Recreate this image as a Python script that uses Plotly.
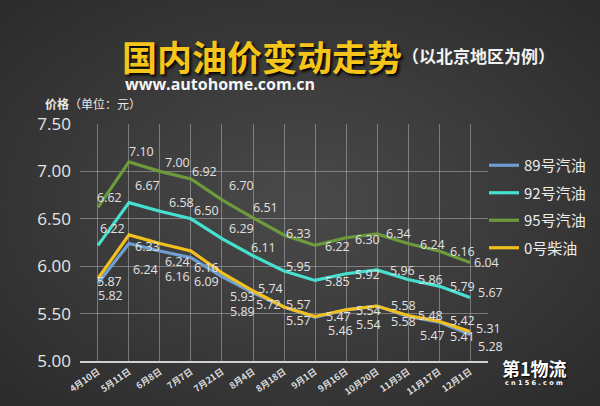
import base64
import plotly.graph_objects as go

# ---- data ----
dates = ["4月10日", "5月11日", "6月8日", "7月7日", "7月21日", "8月4日", "8月18日",
         "9月1日", "9月16日", "10月20日", "11月3日", "11月17日", "12月1日"]
series_names = ["89号汽油", "92号汽油", "95号汽油", "0号柴油"]
gas89 = [5.82, 6.24, 6.16, 6.09, 5.89, 5.72, 5.57, 5.46, 5.54, 5.58, 5.47, 5.41, 5.28]
gas92 = [6.22, 6.67, 6.58, 6.50, 6.29, 6.11, 5.95, 5.85, 5.92, 5.96, 5.86, 5.79, 5.67]
gas95 = [6.62, 7.10, 7.00, 6.92, 6.70, 6.51, 6.33, 6.22, 6.30, 6.34, 6.24, 6.16, 6.04]
diesel0 = [5.87, 6.33, 6.24, 6.16, 5.93, 5.74, 5.57, 5.47, 5.54, 5.58, 5.48, 5.42, 5.31]
y_ticks = [5.00, 5.50, 6.00, 6.50, 7.00, 7.50]

# ---- styles ----
colors = ["#6f9fd2", "#45e0cf", "#6c9a3c", "#f2c01e"]
# label offsets (pixels, dx right, dy down) per series
off89 = [(13, 12), (17, 26), (18, 25), (16, 24), (21, 35), (15, 12), (14, 14),
         (25, 13), (22, 15), (26, 15), (24, 19), (23, 14), (20, 12)]
off92 = [(15, -17), (19, -17), (22, -9), (16, -8), (20, -10), (10, -8), (14, -4),
         (22, 1), (21, 1), (25, 1), (22, 0), (23, 0), (20, -5)]
off95 = [(12, -10), (13, -10), (18, -9), (14, -7), (20, -14), (12, -10), (14, -1),
         (22, 1), (21, 2), (21, 0), (24, 1), (23, 0), (16, 0)]
off0 = [(12, 3), (19, 12), (18, 18), (16, 16), (21, 24), (17, -2), (14, -2),
        (23, 0), (22, 1), (26, -1), (22, 0), (23, -1), (18, -3)]

all_series = [gas89, gas92, gas95, diesel0]
all_offsets = [off89, off92, off95, off0]

L, R, T, B = 80, 112, 124, 45
PW, PH = 600 - L - R, 406 - T - B


def px(xp):
    return (xp - L) / PW


def py(yp):
    return (406 - B - yp) / PH


svg = ("<svg xmlns='http://www.w3.org/2000/svg' width='600' height='406'>"
       "<defs><radialGradient id='g' cx='50%' cy='50%' r='72%'>"
       "<stop offset='0' stop-color='#4a4a4a'/><stop offset='1' stop-color='#2a2a2a'/>"
       "</radialGradient></defs><rect width='600' height='406' fill='url(#g)'/></svg>")
bg_uri = "data:image/svg+xml;base64," + base64.b64encode(svg.encode()).decode()

fig = go.Figure()
xs = list(range(len(dates)))
for name, vals, col in zip(series_names, all_series, colors):
    fig.add_trace(go.Scatter(
        x=xs, y=vals, mode="lines", name=name, legendgroup=name,
        line=dict(color=col, width=3.2),
        hoverinfo="skip",
    ))

annotations = []
for vals, offs in zip(all_series, all_offsets):
    for i, v in enumerate(vals):
        annotations.append(dict(
            x=i, y=v, xref="x", yref="y", text=f"{v:.2f}", showarrow=False,
            xshift=offs[i][0], yshift=-offs[i][1],
            font=dict(family="Open Sans, Noto Sans CJK SC", size=12.5, color="#e2e2e2"),
        ))

annotations += [
    dict(x=px(262), y=py(56), xref="paper", yref="paper", showarrow=False,
         text="<b>国内油价变动走势</b>", xanchor="center", yanchor="middle",
         font=dict(family="Noto Sans CJK SC", size=35, color="#f6c51a",
                   shadow="2px 2px 3px #000")),
    dict(x=px(478), y=py(56), xref="paper", yref="paper", showarrow=False,
         text="<b>（以北京地区为例）</b>", xanchor="center", yanchor="middle",
         font=dict(family="Noto Sans CJK SC", size=17, color="#f2f2f2")),
    dict(x=px(123), y=py(84), xref="paper", yref="paper", showarrow=False,
         text="<b>www.autohome.com.cn</b>", xanchor="left", yanchor="middle",
         font=dict(family="Open Sans", size=16, color="#f5f5f5")),
    dict(x=px(43), y=py(104), xref="paper", yref="paper", showarrow=False,
         text="<b>价格</b>（单位：元）", xanchor="left", yanchor="middle",
         font=dict(family="Noto Sans CJK SC", size=12, color="#e8e8e8")),
    dict(x=px(534), y=py(368), xref="paper", yref="paper", showarrow=False,
         text="<b>第1物流</b>", xanchor="center", yanchor="middle",
         font=dict(family="Noto Sans CJK SC", size=18, color="#ffffff",
                   shadow="1px 1px 2px #000")),
    dict(x=px(534), y=py(383), xref="paper", yref="paper", showarrow=False,
         text="<b>c n 1 5 6 . c o m</b>", xanchor="center", yanchor="middle",
         font=dict(family="DejaVu Sans", size=6.5, color="#ffffff")),
]

fig.update_layout(
    width=600, height=406,
    margin=dict(l=L, r=R, t=T, b=B, pad=0, autoexpand=False),
    paper_bgcolor="#393939",
    plot_bgcolor="rgba(0,0,0,0)",
    images=[dict(source=bg_uri, xref="paper", yref="paper", x=px(0), y=py(0),
                 sizex=600 / PW, sizey=406 / PH, sizing="stretch", layer="below",
                 xanchor="left", yanchor="top")],
    showlegend=True,
    legend=dict(x=px(484), y=py(149), xanchor="left", yanchor="top",
                bgcolor="rgba(0,0,0,0)", font=dict(family="Noto Sans CJK SC", size=15,
                                                   color="#ececec"),
                itemwidth=30, tracegroupgap=5),
    annotations=annotations,
    xaxis=dict(
        type="linear", range=[-0.58, 12.58], tickmode="array", tickvals=xs,
        ticktext=[f"<b>{d}</b>" for d in dates], tickangle=-35,
        tickfont=dict(family="Noto Sans CJK SC", size=9, color="#dcdcdc"),
        showgrid=True, gridcolor="rgba(200,200,200,0.45)", gridwidth=1,
        showline=True, linecolor="#d0d0d0", linewidth=2, zeroline=False,
        ticks="", fixedrange=True, automargin=False,
    ),
    yaxis=dict(
        range=[5.0, 7.5], tickmode="array", tickvals=y_ticks,
        ticktext=[f"{t:.2f}" for t in y_ticks],
        tickfont=dict(family="Open Sans", size=17, color="#e6e6e6"),
        showgrid=True, gridcolor="rgba(200,200,200,0.45)", gridwidth=1,
        showline=False, zeroline=False, ticks="", ticklabelstandoff=8,
        automargin=False, fixedrange=True,
    ),
)

fig.write_html("out.html", config={"displayModeBar": False, "staticPlot": True},
               post_script="document.body.style.margin='0';document.body.style.overflow='hidden';")
